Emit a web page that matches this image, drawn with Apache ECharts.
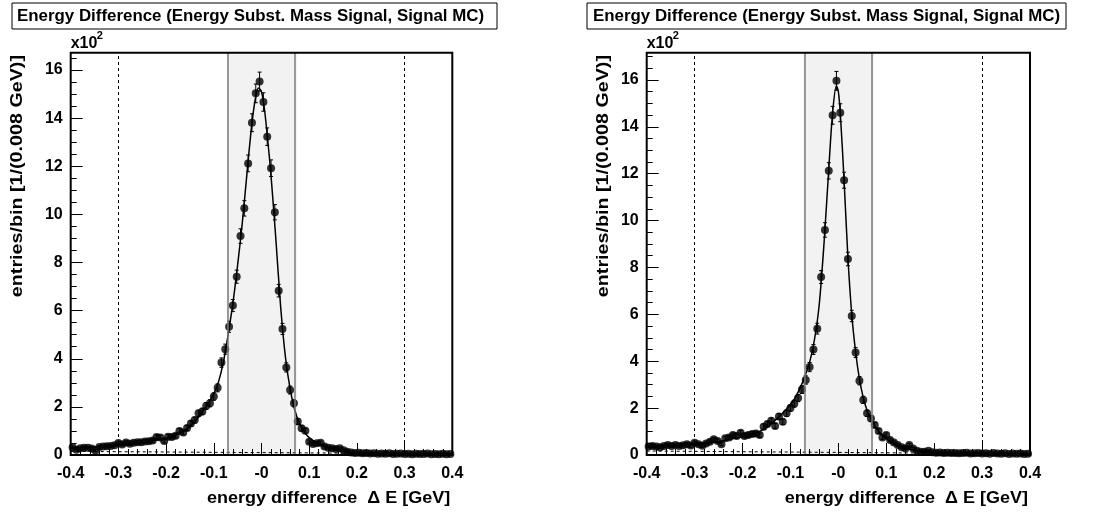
<!DOCTYPE html>
<html><head><meta charset="utf-8">
<script src="https://cdn.jsdelivr.net/npm/echarts@6/dist/echarts.min.js"></script>
<style>html,body{margin:0;padding:0;background:#fff}#c{width:1099px;height:513px}</style>
</head><body><div id="c"></div>
<script>
// ---- data (entries per bin, in units of 10^2) ----
const binWidth = 0.008;           // GeV, from axis title
const nBins = 100;                // -0.4 .. 0.4
const binCenters = Array.from({length: nBins}, (_, i) => +(-0.4 + binWidth * (i + 0.5)).toFixed(3));

const leftCounts = [
  0.32,0.22,0.28,0.30,0.30,0.27,0.18,0.33,0.35,0.36,
  0.37,0.41,0.50,0.44,0.52,0.47,0.51,0.53,0.53,0.56,
  0.57,0.60,0.75,0.73,0.58,0.76,0.75,0.80,1.00,0.93,
  1.12,1.31,1.45,1.73,1.81,2.04,2.15,2.43,2.79,3.84,
  4.40,5.33,6.21,7.41,9.10,10.25,12.12,13.81,15.03,15.52,
  14.67,13.23,11.92,10.09,6.83,5.24,3.64,2.70,2.15,1.39,
  1.11,1.01,0.55,0.46,0.49,0.51,0.35,0.30,0.28,0.25,
  0.28,0.20,0.13,0.10,0.08,0.09,0.07,0.08,0.06,0.07,
  0.05,0.06,0.05,0.07,0.04,0.05,0.06,0.04,0.05,0.03,
  0.05,0.04,0.04,0.06,0.03,0.04,0.03,0.05,0.03,0.04
];
const rightCounts = [
  0.36,0.38,0.36,0.33,0.38,0.43,0.38,0.43,0.38,0.42,
  0.46,0.40,0.52,0.46,0.39,0.49,0.57,0.67,0.60,0.46,
  0.71,0.75,0.85,0.81,0.95,0.81,0.85,0.90,0.92,0.85,
  1.21,1.32,1.46,1.24,1.64,1.42,1.78,2.00,2.19,2.43,
  2.79,3.20,3.75,4.50,5.39,7.59,9.60,12.12,14.49,15.96,
  14.60,11.72,8.36,5.93,4.37,3.17,2.35,1.78,1.56,1.28,
  1.02,0.75,0.85,0.64,0.53,0.43,0.33,0.28,0.43,0.28,
  0.18,0.14,0.14,0.18,0.12,0.10,0.11,0.09,0.10,0.08,
  0.09,0.07,0.08,0.10,0.06,0.07,0.08,0.06,0.07,0.05,
  0.09,0.06,0.05,0.07,0.04,0.06,0.05,0.06,0.04,0.05
];

// fit curves
const leftFitX  = [-0.4,-0.35,-0.3,-0.25,-0.2,-0.18,-0.16,-0.14,-0.12,-0.1,-0.09,-0.08,-0.07,-0.06,-0.05,-0.04,-0.03,-0.02,-0.012,-0.006,0,0.006,0.012,0.02,0.03,0.04,0.05,0.06,0.07,0.08,0.09,0.1,0.12,0.14,0.16,0.18,0.2,0.25,0.3,0.4];
const leftFitY  = [0.28,0.33,0.42,0.53,0.70,0.82,1.02,1.38,1.90,2.55,3.05,3.85,5.0,6.3,7.9,9.7,11.8,13.8,14.9,15.25,15.1,14.4,13.3,11.6,9.0,6.2,4.1,2.75,1.85,1.3,0.95,0.72,0.45,0.30,0.20,0.13,0.09,0.05,0.04,0.03];
const rightFitX = [-0.4,-0.35,-0.3,-0.25,-0.2,-0.18,-0.16,-0.14,-0.12,-0.1,-0.09,-0.08,-0.07,-0.06,-0.05,-0.04,-0.03,-0.02,-0.012,-0.004,0,0.004,0.012,0.02,0.028,0.036,0.044,0.052,0.06,0.07,0.08,0.09,0.1,0.12,0.14,0.16,0.18,0.2,0.25,0.3,0.4];
const rightFitY = [0.33,0.40,0.47,0.58,0.78,0.88,1.05,1.35,1.70,2.15,2.45,2.85,3.35,3.95,4.9,6.4,9.0,12.2,14.6,15.75,15.5,14.6,11.7,8.4,6.0,4.4,3.25,2.45,1.9,1.45,1.12,0.88,0.7,0.45,0.3,0.2,0.14,0.1,0.06,0.05,0.04];

// background component (dashed)
const bgX = [-0.4, 0.4];
const leftBgY = [0.15, 0.05];
const rightBgY = [0.17, 0.05];

// signal window and side lines
const windowLo = -0.073, windowHi = 0.074;
const sideLines = [-0.3, 0.3];

const titleText = 'Energy Difference (Energy Subst. Mass Signal, Signal MC)';
const xTitle = 'energy difference  \u0394 E [GeV]';
const yTitle = 'entries/bin [1/(0.008 GeV)]';

// ---- chart ----
const FONT = '"Liberation Sans", Arial, Helvetica, sans-serif';
const panels = [
  {left: 70.7, width: 381.6, ymax: 16.72, counts: leftCounts, fx: leftFitX, fy: leftFitY, bgy: leftBgY, ytx: 17},
  {left: 646.7, width: 383.3, ymax: 17.16, counts: rightCounts, fx: rightFitX, fy: rightFitY, bgy: rightBgY, ytx: 603}
];
const TOP = 52.7, HEIGHT = 402.3;

const grid = [], xAxis = [], yAxis = [], series = [];
panels.forEach((p, k) => {
  grid.push({left: p.left, top: TOP, width: p.width, height: HEIGHT, show: true,
    borderColor: '#000', borderWidth: 2, backgroundColor: 'transparent', z: 10});
  xAxis.push({type: 'value', gridIndex: k, min: -0.4, max: 0.4, interval: 0.1, z: 3, position: 'bottom',
    axisLine: {show: false, onZero: false}, splitLine: {show: false},
    axisTick: {show: true, inside: true, length: 12, lineStyle: {color: '#000', width: 1}},
    minorTick: {show: true, splitNumber: 5, length: 6, lineStyle: {color: '#000', width: 1}},
    axisLabel: {margin: 11, color: '#000', fontFamily: FONT, fontWeight: 'bold', fontSize: 16,
      formatter: v => { const r = Math.round(v * 10) / 10; return r === 0 ? '-0' : r.toFixed(1); }}
  });
  yAxis.push({type: 'value', gridIndex: k, min: 0, max: p.ymax, interval: 2, position: 'left', z: 3,
    axisLine: {show: false, onZero: false}, splitLine: {show: false},
    axisTick: {show: true, inside: true, length: 12, lineStyle: {color: '#000', width: 1}},
    axisLabel: {margin: 8, color: '#000', fontFamily: FONT, fontWeight: 'bold', fontSize: 16,
      showMaxLabel: false, formatter: v => String(Math.round(v))}
  });
  yAxis.push({type: 'value', gridIndex: k, min: 0, max: p.ymax, interval: 0.5, position: 'left', z: 3,
    axisLine: {show: false, onZero: false}, splitLine: {show: false}, axisLabel: {show: false},
    axisTick: {show: true, inside: true, length: 6, lineStyle: {color: '#000', width: 1}}
  });
  const yi = 2 * k;
  // background dashed + shaded window + vertical lines
  series.push({type: 'line', xAxisIndex: k, yAxisIndex: yi, z: 1, silent: true,
    data: bgX.map((x, i) => [x, p.bgy[i]]), showSymbol: false,
    lineStyle: {color: '#000', width: 1, type: [3, 3]},
    markArea: {silent: true, itemStyle: {color: '#f2f2f2'}, data: [[{xAxis: windowLo}, {xAxis: windowHi}]]},
    markLine: {silent: true, symbol: 'none', label: {show: false}, animation: false,
      data: [
        {xAxis: windowLo, lineStyle: {color: '#7a7a7a', width: 1.5, type: 'solid'}},
        {xAxis: windowHi, lineStyle: {color: '#7a7a7a', width: 1.5, type: 'solid'}},
        {xAxis: sideLines[0], lineStyle: {color: '#000', width: 1, type: [3, 3]}},
        {xAxis: sideLines[1], lineStyle: {color: '#000', width: 1, type: [3, 3]}}
      ]}
  });
  // fit curve
  series.push({type: 'line', xAxisIndex: k, yAxisIndex: yi, z: 2, smooth: 0.3, showSymbol: false,
    data: p.fx.map((x, i) => [x, p.fy[i]]), lineStyle: {color: '#000', width: 1.5}});
  // error bars (Poisson)
  series.push({type: 'custom', xAxisIndex: k, yAxisIndex: yi, z: 3,
    data: p.counts.map((v, i) => [binCenters[i], v, Math.sqrt(v) / 10]),
    renderItem: (params, api) => {
      const x = api.value(0), y = api.value(1), e = api.value(2);
      const a = api.coord([x, y + e]), b = api.coord([x, Math.max(0, y - e)]);
      const st = {stroke: '#000', lineWidth: 1};
      return {type: 'group', children: [
        {type: 'line', shape: {x1: a[0], y1: a[1], x2: b[0], y2: b[1]}, style: st},
        {type: 'line', shape: {x1: a[0] - 2, y1: a[1], x2: a[0] + 2, y2: a[1]}, style: st},
        {type: 'line', shape: {x1: b[0] - 2, y1: b[1], x2: b[0] + 2, y2: b[1]}, style: st}
      ]};
    }
  });
  // points
  series.push({type: 'scatter', xAxisIndex: k, yAxisIndex: yi, z: 4, symbol: 'circle', symbolSize: 8,
    itemStyle: {color: '#000'}, data: p.counts.map((v, i) => [binCenters[i], v])});
});

const graphic = [];
const boxes = [{x: 12, w: 485, tx: 17}, {x: 587, w: 479, tx: 593}];
boxes.forEach(b => {
  graphic.push({type: 'rect', shape: {x: b.x, y: 3, width: b.w, height: 26}, style: {fill: '#fff', stroke: '#000', lineWidth: 1}, z: 20});
  graphic.push({type: 'text', x: b.tx, y: 16.5, scaleX: 1.055, z: 21, style: {text: titleText, fill: '#000', font: 'bold 16px ' + FONT, align: 'left', verticalAlign: 'middle'}});
});
panels.forEach((p, k) => {
  graphic.push({type: 'text', x: p.left, y: 44, z: 21, style: {text: 'x10', fill: '#000', font: 'bold 16px ' + FONT, align: 'left', verticalAlign: 'middle'}});
  graphic.push({type: 'text', x: p.left + 26, y: 36, z: 21, style: {text: '2', fill: '#000', font: 'bold 11px ' + FONT, align: 'left', verticalAlign: 'middle'}});
  graphic.push({type: 'text', x: p.left + p.width - 2, y: 498, scaleX: 1.06, z: 21, style: {text: xTitle, fill: '#000', font: 'bold 17px ' + FONT, align: 'right', verticalAlign: 'middle'}});
  graphic.push({type: 'text', x: p.ytx, y: 55, rotation: Math.PI / 2, scaleX: 1.16, z: 21, style: {text: yTitle, fill: '#000', font: 'bold 17px ' + FONT, align: 'right', verticalAlign: 'middle'}});
});

const chart = echarts.init(document.getElementById('c'), null, {renderer: 'canvas'});
chart.setOption({animation: false, backgroundColor: '#fff', grid, xAxis, yAxis, series, graphic});
</script></body></html>
